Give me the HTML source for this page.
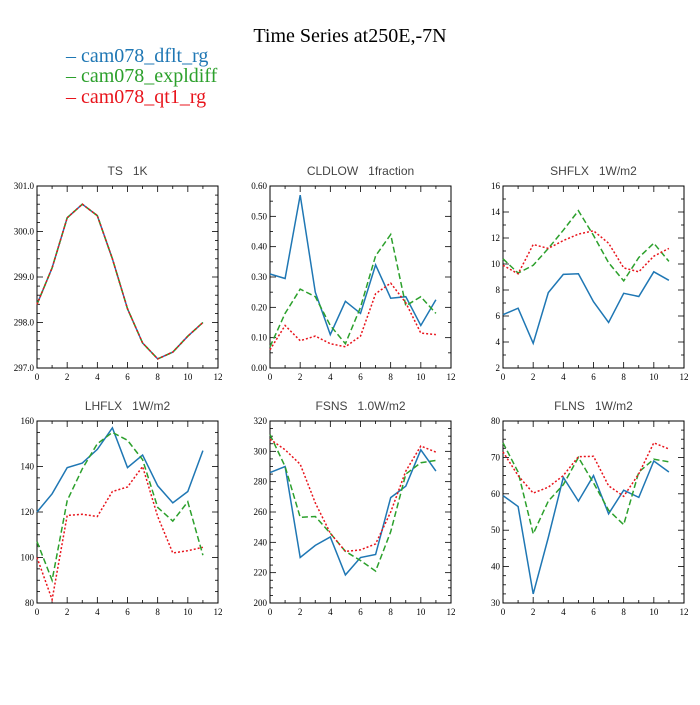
<!DOCTYPE html>
<html><head><meta charset="utf-8">
<style>
body{margin:0;background:#fff;}
svg text{font-family:"Liberation Serif",serif;}
svg text.pt{font-family:"Liberation Sans",sans-serif;white-space:pre;}
</style></head>
<body>
<svg id="chart" width="700" height="700" xmlns="http://www.w3.org/2000/svg">
<rect width="700" height="700" fill="#fff"/>
<text x="350" y="42" font-size="20" text-anchor="middle" fill="#000">Time Series at250E,-7N</text>
<g font-size="20">
<text x="66" y="62" fill="#1f77b4">– cam078_dflt_rg</text>
<text x="66" y="82" fill="#2ca02c">– cam078_expldiff</text>
<text x="66" y="103" fill="#e8141c">– cam078_qt1_rg</text>
</g>
</svg>
<script>
const months=[0,1,2,3,4,5,6,7,8,9,10,11];
const seriesNames=["cam078_dflt_rg","cam078_expldiff","cam078_qt1_rg"];
const panelTitles=["TS   1K","CLDLOW   1fraction","SHFLX   1W/m2","LHFLX   1W/m2","FSNS   1.0W/m2","FLNS   1W/m2"];
const yTickLabelsTS=["297.0","298.0","299.0","300.0","301.0"];
const yTickLabelsCLD=["0.00","0.10","0.20","0.30","0.40","0.50","0.60"];
const yTickLabelsSH=["2","4","6","8","10","12","14","16"];
const yTickLabelsLH=["80","100","120","140","160"];
const yTickLabelsFSNS=["200","220","240","260","280","300","320"];
const yTickLabelsFLNS=["30","40","50","60","70","80"];
const xTickLabels=["0","2","4","6","8","10","12"];
const tsDflt=[298.4,299.2,300.3,300.6,300.35,299.4,298.3,297.55,297.2,297.35,297.7,298.0];
const tsExpl=[298.4,299.2,300.3,300.6,300.35,299.4,298.3,297.55,297.2,297.35,297.7,298.0];
const tsQt1=[298.4,299.2,300.3,300.6,300.35,299.4,298.3,297.55,297.2,297.35,297.7,298.0];
const cldDflt=[0.31,0.295,0.57,0.25,0.11,0.22,0.18,0.34,0.23,0.235,0.14,0.225];
const cldExpl=[0.07,0.18,0.26,0.235,0.14,0.08,0.2,0.37,0.44,0.205,0.235,0.18];
const cldQt1=[0.06,0.14,0.09,0.105,0.08,0.07,0.105,0.245,0.28,0.215,0.115,0.11];
const shDflt=[6.1,6.6,3.9,7.8,9.2,9.25,7.1,5.5,7.75,7.5,9.4,8.75];
const shExpl=[10.4,9.3,9.9,11.2,12.6,14.1,12.2,10.1,8.7,10.5,11.6,10.2];
const shQt1=[9.9,9.25,11.5,11.2,11.8,12.3,12.55,11.6,9.7,9.4,10.6,11.2];
const lhDflt=[120,128,139.5,141.5,147.5,157,139.5,145,131.5,124,129,147];
const lhExpl=[107,90,125,139,150,155,151.5,143,122,116,124.5,101];
const lhQt1=[100,81.5,118.5,119,118,129,131,140,118,102,103,104.5];
const fsDflt=[286,290,230,238,243.5,218.5,230,232,269.5,277,301,287];
const fsExpl=[311,290,256.5,257,246,234,228,221,247,285,292.5,294];
const fsQt1=[308,301,291.5,266,246,234,235,239,260,287,303.5,299.5];
const flDflt=[59.5,56.5,32.5,48,64.5,58,65,54.5,61,59,69,66];
const flExpl=[74,66,49,58,62.5,70,63,55.5,51.5,66,69.5,68.8];
const flQt1=[71.5,65,60.2,61.8,65,70.2,70.3,62.2,59.3,65.5,74,72.3];

const svg=document.getElementById('chart');
const NS="http://www.w3.org/2000/svg";
function mk(tag,attrs,parent){const e=document.createElementNS(NS,tag);for(const k in attrs)e.setAttribute(k,attrs[k]);parent.appendChild(e);return e;}
const colors=["#1f77b4","#2ca02c","#e8141c"];
const dashes=["","6,3","2,2"];
const panels=[
 {t:0,x:37,y:186,lab:yTickLabelsTS,min:297,max:301,minor:5,data:[tsDflt,tsExpl,tsQt1]},
 {t:1,x:270,y:186,lab:yTickLabelsCLD,min:0,max:0.6,minor:2,data:[cldDflt,cldExpl,cldQt1]},
 {t:2,x:503,y:186,lab:yTickLabelsSH,min:2,max:16,minor:2,data:[shDflt,shExpl,shQt1]},
 {t:3,x:37,y:421,lab:yTickLabelsLH,min:80,max:160,minor:4,data:[lhDflt,lhExpl,lhQt1]},
 {t:4,x:270,y:421,lab:yTickLabelsFSNS,min:200,max:320,minor:4,data:[fsDflt,fsExpl,fsQt1]},
 {t:5,x:503,y:421,lab:yTickLabelsFLNS,min:30,max:80,minor:4,data:[flDflt,flExpl,flQt1]}
];
const W=181,H=182;
panels.forEach(p=>{
  const g=mk('g',{},svg);
  
  
  const sx=v=>p.x+v/12*W;
  const sy=v=>p.y+H-(v-p.min)/(p.max-p.min)*H;
  const title=mk('text',{x:p.x+W/2,y:p.y-11,'font-size':12,'text-anchor':'middle',fill:'#444','class':'pt'},g);
  title.textContent=panelTitles[p.t];
  
  
  const n=p.lab.length-1;
  for(let i=0;i<=n*p.minor;i++){
    const v=p.min+(p.max-p.min)*i/(n*p.minor);const yy=sy(v);const L=(i%p.minor==0)?6:3;
    mk('line',{x1:p.x,x2:p.x+L,y1:yy,y2:yy,stroke:'#000','stroke-width':0.8},g);
    mk('line',{x1:p.x+W,x2:p.x+W-L,y1:yy,y2:yy,stroke:'#000','stroke-width':0.8},g);
  }
  p.lab.forEach((s,i)=>{
    const t=mk('text',{x:p.x-3,y:sy(p.min+(p.max-p.min)*i/n)+3,'font-size':9,'text-anchor':'end',fill:'#000'},g);
    t.textContent=s;
    
    
  });
  for(let m=0;m<=12;m++){
    const xx=sx(m);const L=(m%2==0)?6:3;
    mk('line',{x1:xx,x2:xx,y1:p.y+H,y2:p.y+H-L,stroke:'#000','stroke-width':0.8},g);
    mk('line',{x1:xx,x2:xx,y1:p.y,y2:p.y+L,stroke:'#000','stroke-width':0.8},g);
  }
  xTickLabels.forEach(s=>{
    const t=mk('text',{x:sx(+s),y:p.y+H+12,'font-size':9,'text-anchor':'middle',fill:'#000'},g);
    t.textContent=s;
    
    
  });
  const frame=mk('rect',{x:p.x,y:p.y,width:W,height:H,fill:'none',stroke:'#000','stroke-width':1},g);
  
  
  p.data.forEach((d,k)=>{
    const pts=d.map((v,i)=>sx(months[i]).toFixed(1)+','+sy(v).toFixed(1)).join(' ');
    const pl=mk('polyline',{points:pts,fill:'none',stroke:colors[k],'stroke-width':1.5},g);
    if(dashes[k])pl.setAttribute('stroke-dasharray',dashes[k]);
    
    
  });
});
</script>
</body></html>
